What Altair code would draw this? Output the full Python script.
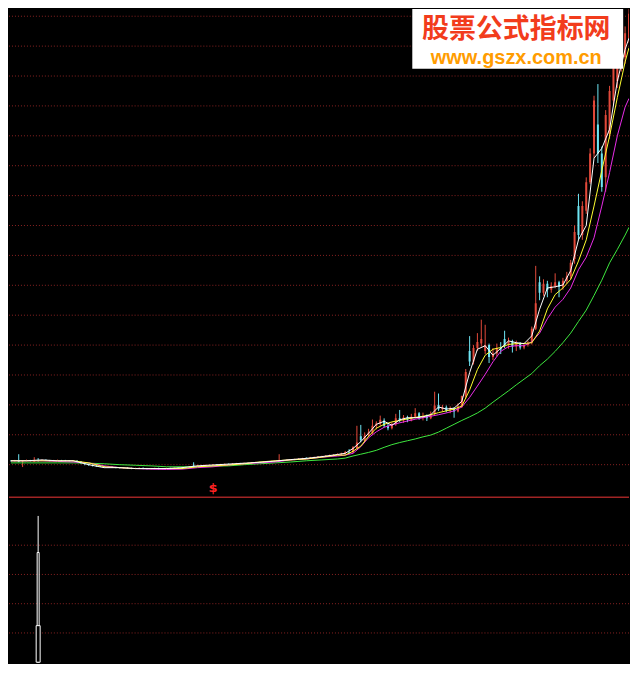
import altair as alt
import pandas as pd

# ---------------- data (price in grid units) ----------------
bar_open = [
    1.13, 1.12, 1.15, 1.11, 1.13, 1.15, 1.10, 1.16, 1.14, 1.16, 1.15, 1.13, 1.14, 1.15, 1.14, 1.13, 1.12, 1.13,
    1.11, 1.07, 1.03, 1.00, 0.97,
    0.95, 0.94, 0.92, 0.93, 0.91, 0.90, 0.89, 0.90, 0.88, 0.87, 0.88, 0.89, 0.87, 0.86, 0.87, 0.88, 0.86, 0.87, 0.88, 0.87, 0.89, 0.88, 0.90,
    0.91, 0.97, 0.95, 0.97, 0.96, 0.98, 0.99, 1.00, 0.99, 1.01, 1.02, 1.01, 1.03, 1.04, 1.03,
    1.05, 1.06, 1.07, 1.08, 1.07, 1.11, 1.10, 1.11, 1.12, 1.13, 1.14, 1.16, 1.17, 1.18, 1.20, 1.23, 1.22, 1.24, 1.25, 1.27, 1.28, 1.30, 1.32, 1.33,
    1.34, 1.37, 1.42, 1.41, 1.56, 1.95, 1.80, 1.98, 2.05, 2.30, 2.36, 2.48, 2.30, 2.22, 2.35, 2.55, 2.48, 2.58, 2.48, 2.60, 2.72, 2.56, 2.62, 2.55, 2.70, 3.00, 2.85, 2.92, 2.80, 2.88, 2.78,
    2.95, 3.28, 4.80, 4.45, 4.90, 5.05, 4.80, 5.00, 4.60, 4.72, 4.90, 5.20, 5.00, 5.12, 4.95, 5.05, 4.92, 5.00, 5.08, 5.55, 7.10, 6.75, 7.05, 6.85, 6.98, 7.10, 6.95, 7.15, 7.30,
    7.88, 9.65, 8.68, 9.49, 10.45, 11.41, 12.38, 11.41, 10.61, 12.06, 13.18, 13.83, 14.31, 14.63, 15.27,
]
bar_close = [
    1.12, 1.14, 1.10, 1.13, 1.15, 1.13, 1.12, 1.14, 1.16, 1.15, 1.13, 1.14, 1.15, 1.14, 1.13, 1.12, 1.13, 1.11,
    1.06, 1.02, 0.99, 0.97, 0.95,
    0.94, 0.92, 0.93, 0.91, 0.90, 0.89, 0.90, 0.88, 0.87, 0.88, 0.89, 0.87, 0.86, 0.87, 0.88, 0.86, 0.87, 0.88, 0.87, 0.89, 0.88, 0.90, 0.91,
    0.93, 0.95, 0.97, 0.96, 0.98, 0.99, 1.00, 0.99, 1.01, 1.02, 1.01, 1.03, 1.04, 1.03, 1.05,
    1.06, 1.07, 1.08, 1.07, 1.09, 1.10, 1.11, 1.12, 1.13, 1.14, 1.16, 1.17, 1.18, 1.20, 1.21, 1.22, 1.24, 1.25, 1.27, 1.28, 1.30, 1.32, 1.33, 1.35,
    1.37, 1.42, 1.40, 1.58, 1.74, 1.82, 1.98, 2.08, 2.30, 2.38, 2.50, 2.30, 2.22, 2.35, 2.55, 2.48, 2.58, 2.50, 2.60, 2.72, 2.56, 2.62, 2.55, 2.70, 2.98, 2.85, 2.92, 2.80, 2.88, 2.78, 2.95,
    3.30, 4.10, 4.45, 4.90, 5.10, 5.20, 5.00, 4.60, 4.72, 4.90, 4.85, 5.00, 5.12, 4.95, 5.05, 4.92, 5.00, 5.08, 5.55, 6.40, 6.75, 7.05, 6.85, 6.98, 7.10, 6.95, 7.15, 7.30, 7.75,
    8.78, 8.68, 9.65, 10.45, 11.41, 13.18, 11.41, 10.29, 12.70, 13.50, 14.47, 14.31, 14.95, 15.43, 16.08,
]
bar_high = [
    1.15, 1.16, 1.35, 1.15, 1.17, 1.16, 1.25, 1.22, 1.18, 1.18, 1.16, 1.16, 1.17, 1.16, 1.16, 1.15, 1.15, 1.15,
    1.12, 1.08, 1.04, 1.01, 0.98,
    0.97, 0.96, 0.95, 0.95, 0.93, 0.92, 0.92, 0.92, 0.90, 0.90, 0.91, 0.91, 0.89, 0.89, 0.90, 0.90, 0.89, 0.90, 0.90, 0.91, 0.91, 0.92, 0.93,
    0.95, 1.08, 0.99, 0.99, 1.00, 1.01, 1.02, 1.02, 1.03, 1.04, 1.04, 1.05, 1.06, 1.06, 1.07,
    1.08, 1.09, 1.10, 1.10, 1.11, 1.12, 1.13, 1.14, 1.35, 1.16, 1.18, 1.19, 1.20, 1.22, 1.23, 1.24, 1.26, 1.27, 1.29, 1.30, 1.32, 1.34, 1.35, 1.38,
    1.40, 1.46, 1.52, 1.62, 2.30, 2.33, 2.08, 2.20, 2.51, 2.45, 2.64, 2.55, 2.38, 2.42, 2.70, 2.83, 2.66, 2.64, 2.70, 2.89, 2.76, 2.74, 2.68, 2.78, 3.44, 3.38, 3.00, 2.98, 2.95, 2.92, 3.05,
    3.31, 4.20, 5.30, 5.00, 5.40, 5.85, 5.68, 5.05, 4.90, 5.05, 5.10, 5.48, 5.25, 5.18, 5.15, 5.10, 5.08, 5.15, 5.62, 7.65, 7.30, 7.20, 7.15, 7.10, 7.40, 7.15, 7.25, 7.45, 7.85,
    9.00, 10.06, 9.81, 10.61, 11.58, 13.34, 13.73, 11.64, 12.86, 13.67, 14.63, 14.47, 15.11, 15.66, 16.24,
]
bar_low = [
    1.10, 1.10, 1.08, 0.92, 1.11, 1.11, 1.10, 1.10, 1.12, 1.13, 1.11, 1.11, 1.12, 1.12, 1.11, 1.10, 1.10, 1.09,
    1.02, 0.98, 0.96, 0.94, 0.93,
    0.92, 0.90, 0.90, 0.89, 0.88, 0.87, 0.87, 0.86, 0.85, 0.85, 0.86, 0.85, 0.84, 0.84, 0.85, 0.84, 0.84, 0.85, 0.85, 0.85, 0.86, 0.86, 0.88,
    0.89, 0.91, 0.93, 0.94, 0.94, 0.96, 0.97, 0.97, 0.97, 0.99, 0.99, 0.99, 1.01, 1.01, 1.01,
    1.03, 1.04, 1.05, 1.05, 1.05, 1.07, 1.08, 1.09, 1.10, 1.11, 1.12, 1.14, 1.15, 1.16, 1.18, 1.19, 1.20, 1.22, 1.23, 1.25, 1.26, 1.28, 1.30, 1.31,
    1.32, 1.34, 1.37, 1.39, 1.52, 1.75, 1.78, 1.92, 2.00, 2.18, 2.30, 2.25, 2.15, 2.18, 2.30, 2.42, 2.40, 2.42, 2.45, 2.55, 2.50, 2.48, 2.46, 2.52, 2.65, 2.80, 2.78, 2.75, 2.72, 2.57, 2.75,
    2.90, 3.20, 4.30, 4.35, 4.80, 4.95, 4.70, 4.40, 4.50, 4.62, 4.70, 4.90, 4.88, 4.75, 4.80, 4.85, 4.86, 4.95, 5.02, 5.50, 6.50, 6.65, 6.60, 6.75, 6.90, 6.60, 6.85, 7.05, 7.20,
    7.72, 8.52, 8.52, 9.39, 10.39, 11.25, 11.09, 10.13, 10.13, 11.90, 13.02, 13.60, 14.15, 14.41, 15.11,
]

ma_idx = [0, 4, 8, 12, 16, 20, 24, 28, 32, 36, 40, 44, 48, 52, 56, 60, 64, 68, 72, 76, 80, 84,
          86, 88, 90, 92, 94, 96, 98, 100, 102, 104, 106, 108, 110, 112, 114, 116, 118, 120, 122,
          124, 126, 128, 130, 132, 134, 136, 138, 140, 142, 144, 146, 148, 150, 152, 154, 156, 158, 159]
ma_white = [1.13, 1.13, 1.16, 1.13, 1.13, 1.00, 0.90, 0.90, 0.87, 0.87, 0.87, 0.90, 0.96, 0.99, 1.02, 1.05, 1.08, 1.12, 1.17, 1.21, 1.27, 1.34,
            1.38, 1.54, 1.77, 2.05, 2.35, 2.45, 2.32, 2.50, 2.57, 2.57, 2.60, 2.67, 2.93, 2.86, 2.89, 3.12, 4.08, 4.86, 4.98, 4.66,
            4.89, 5.14, 5.08, 5.05, 5.31, 6.20, 6.91, 6.95, 7.01, 7.49, 8.52, 9.00, 11.25, 11.58, 12.22, 13.83, 14.89, 15.27]
ma_yellow = [1.13, 1.13, 1.13, 1.13, 1.13, 1.06, 0.93, 0.90, 0.87, 0.87, 0.87, 0.87, 0.93, 0.96, 0.99, 1.03, 1.09, 1.13, 1.16, 1.19, 1.25, 1.32,
             1.32, 1.45, 1.62, 1.95, 2.22, 2.35, 2.43, 2.48, 2.53, 2.58, 2.62, 2.67, 2.74, 2.80, 2.86, 2.96, 3.50, 4.18, 4.66, 4.86,
             4.92, 5.02, 5.05, 5.05, 5.08, 5.47, 6.21, 6.69, 6.91, 7.20, 7.81, 8.52, 9.65, 10.84, 11.99, 13.28, 14.47, 14.95]
ma_magenta = [1.13, 1.13, 1.13, 1.11, 1.09, 1.06, 0.96, 0.90, 0.87, 0.85, 0.84, 0.85, 0.90, 0.93, 0.99, 1.03, 1.06, 1.09, 1.16, 1.19, 1.25, 1.29,
              1.32, 1.38, 1.60, 1.90, 2.10, 2.25, 2.33, 2.40, 2.46, 2.52, 2.57, 2.62, 2.67, 2.73, 2.80, 2.93, 3.25, 3.63, 4.02, 4.44,
              4.79, 4.95, 4.98, 4.98, 5.11, 5.40, 5.88, 6.27, 6.53, 6.91, 7.52, 7.94, 8.59, 9.65, 10.77, 12.00, 12.96, 13.25]
ma_green = [1.06, 1.06, 1.06, 1.06, 1.06, 1.05, 1.03, 1.00, 0.98, 0.96, 0.93, 0.93, 0.93, 0.95, 0.96, 1.00, 1.03, 1.06, 1.09, 1.13, 1.16, 1.19,
            1.22, 1.29, 1.35, 1.41, 1.48, 1.58, 1.67, 1.74, 1.80, 1.86, 1.93, 1.99, 2.09, 2.22, 2.35, 2.48, 2.60, 2.73, 2.89, 3.09,
            3.28, 3.47, 3.67, 3.86, 4.05, 4.31, 4.53, 4.79, 5.08, 5.40, 5.79, 6.17, 6.66, 7.17, 7.75, 8.20, 8.68, 8.94]

grid_upper = [1, 2, 3, 4, 5, 6, 7, 8, 9, 10, 11, 12, 13, 14, 15, 16]
grid_lower = [20, 40, 60, 80]

signal_idx = [52]
signal_val = [-0.02]
signal_text = ["$"]

ind_idx = [7]
ind_base = [0]
ind_top = [100]
ind_mid = [75]
ind_low = [25]

wm_title = "股票公式指标网"
wm_url = "www.gszx.com.cn"

# ---------------- layout / style ----------------
W = 622
H_UP = 489
H_LO = 167
SX = W / 638
SY = (H_UP + H_LO) / 680

UP = "#e2493a"
DOWN = "#6fe6f4"
GRID = "#8a2222"

x_scale = alt.Scale(domain=[-0.5, 159], nice=False, zero=False, padding=0)
y_up = alt.Scale(domain=[-0.064, 16.24], nice=False, zero=False, padding=0)
y_lo = alt.Scale(domain=[-0.5, 113.3], nice=False, zero=False, padding=0)

X = alt.X("idx:Q", scale=x_scale, axis=None)

candles = pd.DataFrame({"idx": list(range(len(bar_open))), "open": bar_open,
                        "close": bar_close, "high": bar_high, "low": bar_low})
candles["dir"] = ["up" if c >= o else "down" for o, c in zip(bar_open, bar_close)]
col = alt.Color("dir:N", scale=alt.Scale(domain=["up", "down"], range=[UP, DOWN]), legend=None)

grid_u = alt.Chart(pd.DataFrame({"g": grid_upper})).mark_rule(
    color=GRID, strokeDash=[1, 2], strokeWidth=1
).encode(y=alt.Y("g:Q", scale=y_up, axis=None))

wick = alt.Chart(candles).mark_rule(strokeWidth=1, clip=True).encode(
    x=X, y=alt.Y("low:Q", scale=y_up, axis=None), y2="high:Q", color=col)
body = alt.Chart(candles).mark_bar(size=2, clip=True).encode(
    x=X, y=alt.Y("open:Q", scale=y_up, axis=None), y2="close:Q", color=col)


def ma_line(vals, color):
    df = pd.DataFrame({"idx": ma_idx, "v": vals})
    return alt.Chart(df).mark_line(color=color, strokeWidth=1, clip=True).encode(
        x=X, y=alt.Y("v:Q", scale=y_up, axis=None))


lines = [ma_line(ma_green, "#3ee83e"), ma_line(ma_magenta, "#e82ce8"),
         ma_line(ma_yellow, "#ffff30"), ma_line(ma_white, "#ffffff")]

sig = alt.Chart(pd.DataFrame({"idx": signal_idx, "v": signal_val, "t": signal_text})).mark_text(
    color="#ff2222", fontSize=13, fontWeight="bold", baseline="bottom", font="DejaVu Sans"
).encode(x=X, y=alt.Y("v:Q", scale=y_up, axis=None), text="t:N")

one = pd.DataFrame({"a": [0]})
wm_box = alt.Chart(one).mark_rect(color="#ffffff").encode(
    x=alt.value(415 * SX), x2=alt.value(632 * SX), y=alt.value(0), y2=alt.value(62 * SY))
wm_t1 = alt.Chart(one).mark_text(
    text=wm_title, font="Noto Sans CJK SC", fontWeight="bold", fontSize=27,
    color="#f23c1c", align="center", baseline="middle"
).encode(x=alt.value(522 * SX), y=alt.value(21.5 * SY))
wm_t2 = alt.Chart(one).mark_text(
    text=wm_url, font="Liberation Sans", fontWeight="bold", fontSize=20,
    color="#ff9c00", align="center", baseline="alphabetic"
).encode(x=alt.value(522 * SX), y=alt.value(57 * SY))

upper = alt.layer(grid_u, wick, body, *lines, sig, wm_box, wm_t1, wm_t2).properties(
    width=W, height=H_UP)

# ---------------- lower panel ----------------
ind = pd.DataFrame({"idx": ind_idx, "base": ind_base, "top": ind_top, "mid": ind_mid, "low": ind_low})

grid_l = alt.Chart(pd.DataFrame({"g": grid_lower})).mark_rule(
    color=GRID, strokeDash=[1, 2], strokeWidth=1
).encode(y=alt.Y("g:Q", scale=y_lo, axis=None))
sep = alt.Chart(one).mark_rule(color="#a02424", strokeWidth=1.5).encode(
    x=alt.value(0), x2=alt.value(W), y=alt.value(0.75))
spike = alt.Chart(ind).mark_rule(color="#ffffff", strokeWidth=1, clip=True).encode(
    x=X, y=alt.Y("base:Q", scale=y_lo, axis=None), y2="top:Q")
mid_bar = alt.Chart(ind).mark_bar(size=2, fill="#000000", stroke="#ffffff", strokeWidth=1, clip=True).encode(
    x=X, y=alt.Y("base:Q", scale=y_lo, axis=None), y2="mid:Q")
low_bar = alt.Chart(ind).mark_bar(size=4, fill="#000000", stroke="#ffffff", strokeWidth=1, clip=True).encode(
    x=X, y=alt.Y("base:Q", scale=y_lo, axis=None), y2="low:Q")

lower = alt.layer(grid_l, spike, mid_bar, low_bar, sep).properties(width=W, height=H_LO)

chart = alt.vconcat(upper, lower, spacing=0).properties(padding=0).configure(
    background="#000000").configure_view(stroke=None)

chart.save("out.html", embed_options={"renderer": "svg", "actions": False})
